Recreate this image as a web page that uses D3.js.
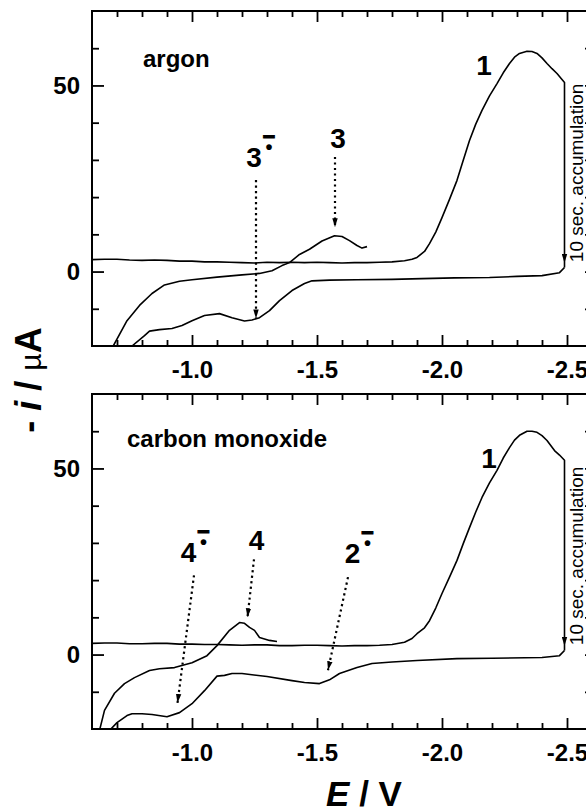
<!DOCTYPE html>
<html><head><meta charset="utf-8">
<script src="https://cdn.jsdelivr.net/npm/d3@7"></script>
<style>body{margin:0;background:#fff}svg{display:block}text{font-family:"Liberation Sans",Arial,Helvetica,sans-serif}</style>
</head><body>
<svg id="chart" width="586" height="812"></svg>
<script>
// ---- axes / ticks ----
const xDomain = [-0.6, -2.6];
const yDomain = [-20, 70];
const xMinorTicks = [-0.7,-0.8,-0.9,-1.1,-1.2,-1.3,-1.4,-1.6,-1.7,-1.8,-1.9,-2.1,-2.2,-2.3,-2.4,-2.6];
const xMajorTicks = [-1.0,-1.5,-2.0,-2.5];
const yMinorTicks = [-10,10,20,30,40,60];
const yMajorTicks = [0,50];
const accumText = "10 sec. accumulation";

// ---- argon panel data: [E (V), -i (µA)] ----
const argonForward = [[-0.60,3.2],[-0.65,3.3],[-0.70,3.3],[-0.75,3.1],[-0.80,3.0],[-0.85,3.1],[-0.90,3.0],[-0.95,2.8],[-1.00,2.8],[-1.05,2.6],[-1.10,2.6],[-1.15,2.5],[-1.20,2.4],[-1.25,2.3],[-1.30,2.5],[-1.35,2.4],[-1.40,2.5],[-1.45,2.4],[-1.50,2.5],[-1.55,2.4],[-1.60,2.3],[-1.65,2.4],[-1.70,2.4],[-1.75,2.5],[-1.80,2.6],[-1.85,2.9],[-1.88,3.3],[-1.90,3.8],[-1.93,5.4],[-1.95,7.5],[-1.975,10.6],[-2.00,14.5],[-2.03,19.4],[-2.06,24.5],[-2.085,29.9],[-2.11,35.2],[-2.135,39.6],[-2.16,43.3],[-2.19,47.2],[-2.22,50.5],[-2.245,53.4],[-2.27,55.9],[-2.29,57.6],[-2.31,58.6],[-2.34,59.2],[-2.36,59.1],[-2.38,58.6],[-2.40,57.4],[-2.42,55.9],[-2.44,54.5],[-2.46,53.2],[-2.49,50.8],[-2.49,1.1]];
const argonReverse = [[-2.49,1.1],[-2.47,-0.3],[-2.40,-1.1],[-2.30,-1.3],[-2.19,-1.6],[-2.05,-1.7],[-1.92,-1.9],[-1.80,-2.1],[-1.66,-2.2],[-1.55,-2.3],[-1.48,-2.5],[-1.45,-3.2],[-1.40,-5.1],[-1.35,-7.8],[-1.31,-10.5],[-1.27,-12.4],[-1.24,-13.0],[-1.21,-13.3],[-1.16,-12.4],[-1.11,-11.3],[-1.05,-11.8],[-1.00,-13.2],[-0.96,-14.5],[-0.92,-15.3],[-0.87,-15.6],[-0.83,-16.0],[-0.81,-17.2],[-0.76,-20],[-0.72,-22.5]];
const argonSecond = [[-0.66,-25],[-0.685,-20],[-0.74,-13.2],[-0.79,-9.1],[-0.84,-5.9],[-0.89,-3.6],[-0.95,-2.6],[-1.00,-2.2],[-1.10,-1.5],[-1.20,-0.9],[-1.27,-0.5],[-1.32,0.2],[-1.36,1.6],[-1.39,2.4],[-1.43,4.6],[-1.47,6.0],[-1.52,8.2],[-1.57,9.6],[-1.60,9.4],[-1.63,8.3],[-1.66,7.0],[-1.68,6.3],[-1.70,6.7]];

// ---- carbon monoxide panel data ----
const coForward = [[-0.60,3.0],[-0.65,3.1],[-0.70,3.1],[-0.75,2.9],[-0.80,2.9],[-0.85,3.0],[-0.90,3.0],[-0.95,2.8],[-1.00,2.8],[-1.05,2.7],[-1.10,2.7],[-1.15,2.6],[-1.20,2.5],[-1.25,2.6],[-1.30,2.6],[-1.35,2.4],[-1.40,2.4],[-1.45,2.5],[-1.50,2.5],[-1.55,2.4],[-1.60,2.3],[-1.65,2.4],[-1.70,2.4],[-1.75,2.5],[-1.80,2.7],[-1.85,3.3],[-1.88,4.3],[-1.90,5.6],[-1.93,7.2],[-1.95,9.1],[-1.975,12.5],[-2.00,16.4],[-2.03,20.8],[-2.06,25.3],[-2.085,29.8],[-2.11,34.1],[-2.135,38.3],[-2.16,42.2],[-2.19,46.1],[-2.22,49.5],[-2.245,52.8],[-2.27,55.6],[-2.29,57.6],[-2.31,58.9],[-2.34,60.0],[-2.36,60.0],[-2.38,59.7],[-2.40,58.8],[-2.42,57.5],[-2.45,54.8],[-2.47,53.6],[-2.49,52.2],[-2.49,1.1]];
const coReverse = [[-2.49,1.1],[-2.47,-0.3],[-2.40,-0.8],[-2.20,-1.0],[-2.06,-1.1],[-1.90,-1.6],[-1.80,-2.0],[-1.72,-2.4],[-1.66,-3.5],[-1.59,-5.1],[-1.55,-6.8],[-1.51,-7.8],[-1.45,-7.5],[-1.40,-7.0],[-1.30,-5.9],[-1.20,-5.1],[-1.16,-5.1],[-1.13,-5.6],[-1.10,-5.8],[-1.05,-9.7],[-1.00,-13.2],[-0.95,-15.6],[-0.90,-16.7],[-0.84,-16.1],[-0.80,-15.9],[-0.76,-15.9],[-0.74,-16.4],[-0.70,-18.3],[-0.67,-20.4],[-0.65,-23]];
const coSecond = [[-0.62,-23],[-0.63,-20.4],[-0.65,-15],[-0.69,-10.4],[-0.73,-7.8],[-0.77,-6.2],[-0.83,-4.3],[-0.87,-3.8],[-0.93,-3.5],[-1.00,-2.2],[-1.06,-0.3],[-1.10,2.4],[-1.15,6.5],[-1.19,8.6],[-1.21,8.4],[-1.23,7.3],[-1.25,6.5],[-1.27,4.6],[-1.31,3.8],[-1.34,3.5]];

// ---- annotations (anchored in data units) ----
const panelNames = ["argon", "carbon monoxide"];
const panelNamePos = [[-0.804, 55.0], [-0.74, 55.7]];
const argonSpecies = [{t:"1",E:-2.168,i:52.8,rad:false},{t:"3",E:-1.584,i:33.2,rad:false},{t:"3",E:-1.248,i:28.1,rad:true}];
const coSpecies = [{t:"1",E:-2.188,i:50.1,rad:false},{t:"4",E:-1.258,i:28.0,rad:false},{t:"4",E:-0.986,i:24.8,rad:true},{t:"2",E:-1.642,i:24.6,rad:true}];
const argonArrows = [[[-1.256,24.6],[-1.256,-12.6]],[[-1.572,30.8],[-1.572,11.9]]];
const coArrows = [[[-1.008,21.3],[-0.942,-13.0]],[[-1.248,25.6],[-1.222,10.0]],[[-1.624,20.8],[-1.544,-4.2]]];
const accumArrow = [[-2.49,12],[-2.49,2.3]];
const accumTextPos = [-2.565, 26.5];

// ---- layout ----
const svg = d3.select("#chart");
const left = 92, right = 592;
const panels = [
  {top:11, bottom:346, fwd:argonForward, rev:argonReverse, sec:argonSecond, species:argonSpecies, arrows:argonArrows},
  {top:394, bottom:729, fwd:coForward, rev:coReverse, sec:coSecond, species:coSpecies, arrows:coArrows}
];
const x = d3.scaleLinear().domain(xDomain).range([left, right]);
const font = '"Liberation Sans",Arial,sans-serif';

const defs = svg.append("defs");
defs.append("marker").attr("id","ah").attr("viewBox","0 0 10 6").attr("refX",10).attr("refY",3)
  .attr("markerWidth",9).attr("markerHeight",6).attr("markerUnits","userSpaceOnUse").attr("orient","auto")
  .append("path").attr("d","M0,0L10,3L0,6Z").attr("fill","#000");

panels.forEach((p, k) => {
  const y = d3.scaleLinear().domain(yDomain).range([p.bottom, p.top]);
  const g = svg.append("g");
  defs.append("clipPath").attr("id","clip"+k).append("rect")
    .attr("x",left).attr("y",p.top).attr("width",right-left).attr("height",p.bottom-p.top);

  const styleAxis = sel => { sel.select(".domain").remove(); sel.selectAll(".tick line").attr("stroke","#000").attr("stroke-width",1.8); };
  const lbl = sel => sel.selectAll("text").attr("font-family",font).attr("font-size",24).attr("font-weight","bold").attr("fill","#000");

  // bottom
  g.append("g").attr("transform",`translate(0,${p.bottom})`)
    .call(d3.axisBottom(x).tickValues(xMinorTicks).tickSize(-6).tickFormat("")).call(styleAxis);
  g.append("g").attr("transform",`translate(0,${p.bottom})`)
    .call(d3.axisBottom(x).tickValues(xMajorTicks).tickSize(-11).tickPadding(15).tickFormat(d=>d.toFixed(1))).call(styleAxis).call(lbl);
  // top
  g.append("g").attr("transform",`translate(0,${p.top})`)
    .call(d3.axisTop(x).tickValues(xMinorTicks).tickSize(-6).tickFormat("")).call(styleAxis);
  g.append("g").attr("transform",`translate(0,${p.top})`)
    .call(d3.axisTop(x).tickValues(xMajorTicks).tickSize(-11).tickFormat("")).call(styleAxis);
  // left
  g.append("g").attr("transform",`translate(${left},0)`)
    .call(d3.axisLeft(y).tickValues(yMinorTicks).tickSize(-7).tickFormat("")).call(styleAxis);
  g.append("g").attr("transform",`translate(${left},0)`)
    .call(d3.axisLeft(y).tickValues(yMajorTicks).tickSize(-12).tickPadding(12).tickFormat(d=>d)).call(styleAxis).call(lbl);
  // right
  g.append("g").attr("transform",`translate(${right},0)`)
    .call(d3.axisRight(y).tickValues(yMinorTicks.concat(yMajorTicks)).tickSize(-7).tickFormat("")).call(styleAxis);

  // frame
  g.append("rect").attr("x",left).attr("y",p.top).attr("width",right-left).attr("height",p.bottom-p.top)
    .attr("fill","none").attr("stroke","#000").attr("stroke-width",2);

  // curves
  const line = d3.line().x(d=>x(d[0])).y(d=>y(d[1]));
  const cg = g.append("g").attr("clip-path",`url(#clip${k})`);
  [p.fwd, p.rev, p.sec].forEach(s => cg.append("path").attr("d", line(s))
    .attr("fill","none").attr("stroke","#000").attr("stroke-width",1.6).attr("stroke-linejoin","round"));

  // accumulation arrowhead + label
  g.append("path").attr("d", line(accumArrow)).attr("stroke","none").attr("fill","none").attr("marker-end","url(#ah)");
  g.append("text").attr("transform",`translate(${x(accumTextPos[0])},${y(accumTextPos[1])}) rotate(-90)`)
    .attr("text-anchor","middle").attr("font-family",font).attr("font-size",19).attr("fill","#000").text(accumText);

  // panel name
  g.append("text").attr("x",x(panelNamePos[k][0])).attr("y",y(panelNamePos[k][1]))
    .attr("font-family",font).attr("font-size",24).attr("font-weight","bold").attr("fill","#000").text(panelNames[k]);

  // dotted arrows
  p.arrows.forEach(a => g.append("path").attr("d", line(a)).attr("fill","none").attr("stroke","#000")
    .attr("stroke-width",2.2).attr("stroke-dasharray","2.2,3.3").attr("marker-end","url(#ah)"));

  // species labels (radical anions get a superscript dot with a minus bar above it, in the same text)
  p.species.forEach(s => {
    const cx = x(s.E), by = y(s.i);
    const t = g.append("text").attr("x", s.rad ? cx - 7.8 : cx).attr("y",by)
      .attr("text-anchor", s.rad ? "start" : "middle")
      .attr("font-family",font).attr("font-weight","bold").attr("fill","#000");
    t.append("tspan").attr("font-size",28).text(s.t);
    if (s.rad) {
      t.append("tspan").attr("font-size",20).attr("dx",3.7).attr("dy",-13).text("\u2022");
      t.append("tspan").attr("font-size",22).attr("dx",-9.9).attr("dy",-10)
        .attr("stroke","#000").attr("stroke-width",0.9).text("\u2212");
    }
  });
});

// axis titles
const t1 = svg.append("text").attr("x",364).attr("y",806).attr("text-anchor","middle")
  .attr("font-family",font).attr("font-size",35).attr("font-weight","bold").attr("fill","#000");
t1.append("tspan").attr("font-style","italic").text("E");
t1.append("tspan").text(" / V");

const t2 = svg.append("text").attr("transform","translate(41,380) rotate(-90)").attr("text-anchor","middle")
  .attr("font-family",font).attr("font-size",36).attr("font-weight","bold").attr("fill","#000");
t2.append("tspan").text("- ");
t2.append("tspan").attr("font-style","italic").text("i");
t2.append("tspan").text(" / ");
t2.append("tspan").attr("font-weight","normal").attr("font-size",30).text("\u00b5");
t2.append("tspan").text("A");
</script>
</body></html>
